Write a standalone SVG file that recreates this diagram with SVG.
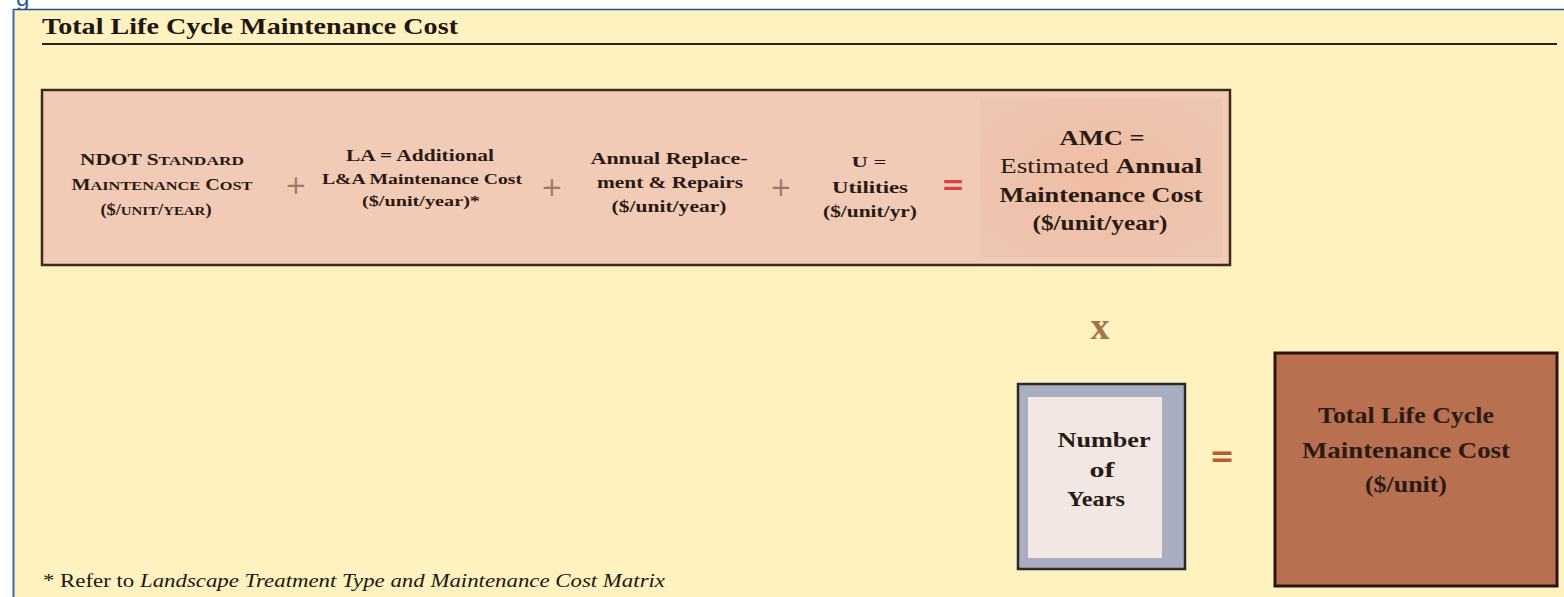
<svg xmlns="http://www.w3.org/2000/svg" width="1564" height="597" viewBox="0 0 1564 597">
<style>
  .t { font-family: "Liberation Serif", "DejaVu Serif", serif; fill: #2a1a14; text-anchor: middle; }
  .b { font-weight: bold; }
  .op { font-family: "DejaVu Sans", "Liberation Sans", sans-serif; text-anchor: middle; }
</style>
<defs>
  <radialGradient id="amcG" cx="50%" cy="50%" r="60%">
    <stop offset="0" stop-color="#efbda3"/>
    <stop offset="1" stop-color="#eec5b0"/>
  </radialGradient>
</defs>
<rect x="0" y="0" width="1564" height="597" fill="#ffffff"/>
<text x="16" y="6" font-family="Liberation Sans, sans-serif" font-size="24" fill="#2a5a9a">g</text>
<rect x="13" y="9" width="1551" height="588" fill="#fdf2c0"/>
<line x1="13" y1="9.5" x2="1564" y2="9.5" stroke="#2a4f86" stroke-width="1.5"/>
<line x1="13.5" y1="9" x2="13.5" y2="597" stroke="#3a6aa8" stroke-width="2"/>

<g id="title">
  <text x="42" y="34" font-family="Liberation Serif, serif" font-size="23" font-weight="bold" fill="#1e1712" textLength="416" lengthAdjust="spacingAndGlyphs">Total Life Cycle Maintenance Cost</text>
  <line x1="42" y1="44" x2="1557" y2="44" stroke="#2a2218" stroke-width="2"/>
</g>

<g id="amc-equation">
  <rect x="42" y="90" width="1188" height="175" fill="#f2cbb7" stroke="#3a2a22" stroke-width="2.5"/>
  <rect x="980" y="98" width="242" height="160" fill="url(#amcG)"/>
</g>

<g id="ndot">
  <text class="t b" x="162" y="165" font-size="16" textLength="164" lengthAdjust="spacingAndGlyphs">NDOT S<tspan font-size="13">TANDARD</tspan></text>
  <text class="t b" x="162" y="190" font-size="16" textLength="181" lengthAdjust="spacingAndGlyphs">M<tspan font-size="13">AINTENANCE</tspan> C<tspan font-size="13">OST</tspan></text>
  <text class="t b" x="156" y="215" font-size="16" textLength="111" lengthAdjust="spacingAndGlyphs">($/<tspan font-size="13">UNIT</tspan>/<tspan font-size="13">YEAR</tspan>)</text>
</g>
<g id="la">
  <text class="t b" x="420" y="161" font-size="16" textLength="148" lengthAdjust="spacingAndGlyphs">LA =  Additional</text>
  <text class="t b" x="422" y="184" font-size="15.5" textLength="200" lengthAdjust="spacingAndGlyphs">L&amp;A Maintenance Cost</text>
  <text class="t b" x="421" y="206" font-size="15" textLength="118" lengthAdjust="spacingAndGlyphs">($/unit/year)*</text>
</g>
<g id="repl">
  <text class="t b" x="669" y="164" font-size="17" textLength="157" lengthAdjust="spacingAndGlyphs">Annual Replace-</text>
  <text class="t b" x="670" y="188" font-size="17" textLength="146" lengthAdjust="spacingAndGlyphs">ment &amp; Repairs</text>
  <text class="t b" x="669" y="212" font-size="16.5" textLength="115" lengthAdjust="spacingAndGlyphs">($/unit/year)</text>
</g>
<g id="util">
  <text class="t b" x="869" y="167" font-size="15" textLength="35" lengthAdjust="spacingAndGlyphs">U =</text>
  <text class="t b" x="870" y="193" font-size="17.5" textLength="76" lengthAdjust="spacingAndGlyphs">Utilities</text>
  <text class="t b" x="870" y="217" font-size="16.5" textLength="94" lengthAdjust="spacingAndGlyphs">($/unit/yr)</text>
</g>
<g id="amc">
  <text class="t b" x="1102" y="145" font-size="22" textLength="85" lengthAdjust="spacingAndGlyphs">AMC =</text>
  <text class="t" x="1101" y="173" font-size="22" textLength="202" lengthAdjust="spacingAndGlyphs">Estimated <tspan font-weight="bold">Annual</tspan></text>
  <text class="t b" x="1101" y="202" font-size="22" textLength="203" lengthAdjust="spacingAndGlyphs">Maintenance Cost</text>
  <text class="t b" x="1100" y="230" font-size="22" textLength="135" lengthAdjust="spacingAndGlyphs">($/unit/year)</text>
</g>

<g id="operators">
  <text class="op" x="296" y="194" font-size="26" fill="#a07866">+</text>
  <text class="op" x="552" y="196" font-size="26" fill="#a07866">+</text>
  <text class="op" x="781" y="196" font-size="26" fill="#a07866">+</text>
  <text class="op" x="953" y="194" font-size="28" font-weight="bold" fill="#d0444a">=</text>
  <text class="t b" x="1100" y="339" font-size="38" style="fill:#a8704c">x</text>
  <text class="op" x="1222" y="466" font-size="30" font-weight="bold" fill="#c05a2a">=</text>
</g>

<g id="years">
  <rect x="1018" y="384" width="167" height="185" fill="#a8aebf" stroke="#2a2a2a" stroke-width="2.5"/>
  <rect x="1028" y="397" width="134" height="161" fill="#f3e7e4"/>
  <text class="t b" x="1104" y="447" font-size="21" textLength="93" lengthAdjust="spacingAndGlyphs">Number</text>
  <text class="t b" x="1102" y="477" font-size="22" textLength="25" lengthAdjust="spacingAndGlyphs">of</text>
  <text class="t b" x="1096" y="506" font-size="21" textLength="58" lengthAdjust="spacingAndGlyphs">Years</text>
</g>

<g id="total">
  <rect x="1275" y="353" width="282" height="233" fill="#b87050" stroke="#2a1410" stroke-width="3"/>
  <text class="t b" x="1406" y="423" font-size="24" textLength="176" lengthAdjust="spacingAndGlyphs">Total Life Cycle</text>
  <text class="t b" x="1406" y="458" font-size="24" textLength="208" lengthAdjust="spacingAndGlyphs">Maintenance Cost</text>
  <text class="t b" x="1406" y="492" font-size="24" textLength="82" lengthAdjust="spacingAndGlyphs">($/unit)</text>
</g>

<g id="footnote">
  <text x="43" y="587" font-family="Liberation Serif, serif" font-size="18" fill="#1e1712" textLength="622" lengthAdjust="spacingAndGlyphs">* Refer to <tspan font-style="italic">Landscape Treatment Type and Maintenance Cost Matrix</tspan></text>
</g>
<g id="connectors"></g>
</svg>
